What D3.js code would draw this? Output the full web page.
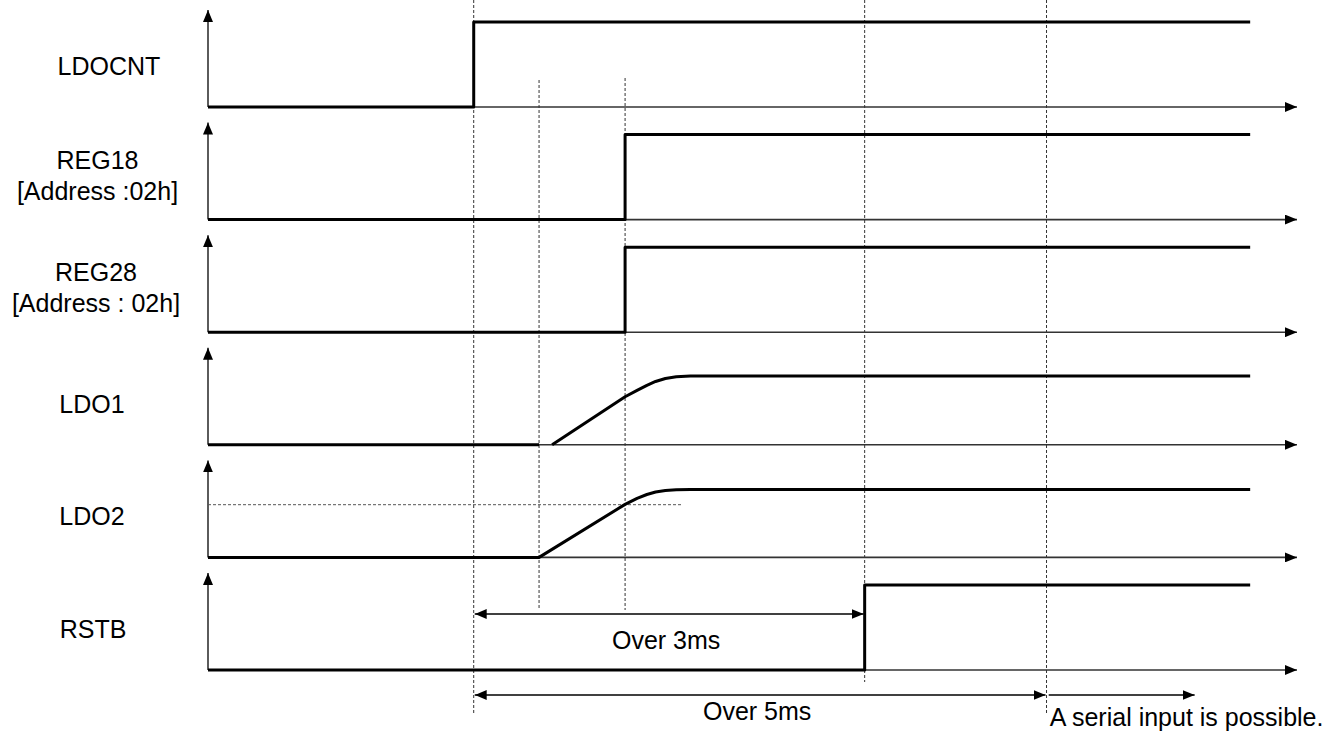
<!DOCTYPE html>
<html>
<head>
<meta charset="utf-8">
<script src="https://cdn.jsdelivr.net/npm/d3@7"></script>
<style>
  html, body { margin: 0; padding: 0; background: #fff; }
  svg { display: block; }
  text { font-family: "Liberation Sans", Arial, sans-serif; fill: #000; }
</style>
</head>
<body>
<svg id="chart" width="1335" height="731"></svg>
<script>
// ---------- data ----------
const signals = ["LDOCNT", "REG18", "REG28", "LDO1", "LDO2", "RSTB"];
const labelLines = [["LDOCNT"], ["REG18", "[Address :02h]"], ["REG28", "[Address : 02h]"], ["LDO1"], ["LDO2"], ["RSTB"]];
// time in arbitrary units (0..100 along the time axis)
const ldocntWave = [[0, 0], [24.4, 0], [24.4, 1], [95.7, 1]];
const reg18Wave  = [[0, 0], [38.3, 0], [38.3, 1], [95.7, 1]];
const reg28Wave  = [[0, 0], [38.3, 0], [38.3, 1], [95.7, 1]];
const ldo1Low    = [[0, 0], [30.4, 0]];
const ldo1Rise   = [[31.6, 0], [38.3, 0.565], [39.4, 0.64], [40.3, 0.70], [41.1, 0.745], [42.0, 0.78], [43.0, 0.80], [44.3, 0.81], [95.7, 0.81]];
const ldo2Wave   = [[0, 0], [30.4, 0], [38.3, 0.624], [39.4, 0.695], [40.3, 0.74], [41.1, 0.77], [42.0, 0.788], [43.0, 0.797], [44.3, 0.80], [95.7, 0.80]];
const rstbWave   = [[0, 0], [60.3, 0], [60.3, 1], [95.7, 1]];
const ldo2Threshold = { value: 0.62, from: 0, to: 43.6 };
const markerTimes = [24.4, 30.4, 38.3, 60.3, 77.0];
const spanFrom = [24.4, 24.4];
const spanTo   = [60.3, 77.0];
const spanLabels = ["Over 3ms", "Over 5ms"];
const serialArrow = [77.2, 90.6];
const serialLabel = "A serial input is possible.";

// ---------- layout ----------
const svg = d3.select("#chart");
const x = d3.scaleLinear().domain([0, 100]).range([208, 1297]);
const base = d3.scalePoint().domain(signals).range([107, 670]);
const levelH = 85;
const yFor = name => d3.scaleLinear().domain([0, 1]).range([base(name), base(name) - levelH]);

const defs = svg.append("defs");
function marker(id, refX, path) {
  defs.append("marker").attr("id", id)
    .attr("viewBox", "0 0 12 10").attr("refX", refX).attr("refY", 5)
    .attr("markerWidth", 12).attr("markerHeight", 10)
    .attr("markerUnits", "userSpaceOnUse").attr("orient", "auto")
    .append("path").attr("d", path).attr("fill", "#000");
}
marker("arrEnd", 12, "M0,0 L12,5 L0,10 Z");
marker("arrStart", 0, "M12,0 L0,5 L12,10 Z");

// dotted marker lines
const markerExtents = [[0, 715], [80, 610], [78, 610], [0, 682], [0, 714]];
svg.append("g").selectAll("line").data(markerTimes).join("line")
  .attr("x1", d => x(d)).attr("x2", d => x(d))
  .attr("y1", (d, i) => markerExtents[i][0]).attr("y2", (d, i) => markerExtents[i][1])
  .attr("stroke", "#333").attr("stroke-width", 1).attr("stroke-dasharray", "3,2");

// axes
const axes = svg.append("g");
signals.forEach(name => {
  const b = base(name);
  axes.append("line").attr("x1", x(0)).attr("x2", x(100)).attr("y1", b).attr("y2", b)
    .attr("stroke", "#333").attr("stroke-width", 1.6).attr("marker-end", "url(#arrEnd)");
  axes.append("line").attr("x1", x(0)).attr("x2", x(0)).attr("y1", b).attr("y2", b - 97)
    .attr("stroke", "#333").attr("stroke-width", 1.6).attr("marker-end", "url(#arrEnd)");
});

// LDO2 threshold
{
  const y = yFor("LDO2");
  svg.append("line").attr("x1", x(ldo2Threshold.from)).attr("x2", x(ldo2Threshold.to))
    .attr("y1", y(ldo2Threshold.value)).attr("y2", y(ldo2Threshold.value))
    .attr("stroke", "#555").attr("stroke-width", 1).attr("stroke-dasharray", "3,2");
}

// waveforms
const waves = [
  ["LDOCNT", ldocntWave], ["REG18", reg18Wave], ["REG28", reg28Wave],
  ["LDO1", ldo1Low], ["LDO1", ldo1Rise], ["LDO2", ldo2Wave], ["RSTB", rstbWave]
];
const wg = svg.append("g");
waves.forEach(([name, pts]) => {
  const y = yFor(name);
  const line = d3.line().x(d => x(d[0])).y(d => y(d[1])).curve(d3.curveLinear);
  wg.append("path").attr("d", line(pts)).attr("fill", "none")
    .attr("stroke", "#000").attr("stroke-width", 3).attr("stroke-linejoin", "round");
});

// labels (y given as text baselines)
const labelX = [109, 97.5, 96, 92, 92, 93];
const lg = svg.append("g");
signals.forEach((name, i) => {
  const lines = labelLines[i];
  const gap = 31;
  const first = lines.length > 1 ? base(name) - 51 : base(name) - 32;
  lines.forEach((t, j) => {
    lg.append("text").attr("x", labelX[i])
      .attr("y", first + j * gap)
      .attr("text-anchor", "middle")
      .attr("font-size", 25).text(t);
  });
});

// dimension arrows
const spanY = [614, 695];
const labelY = [649, 720];
const dg = svg.append("g");
spanLabels.forEach((lab, i) => {
  dg.append("line").attr("x1", x(spanFrom[i]) + 1).attr("x2", x(spanTo[i]) - 1)
    .attr("y1", spanY[i]).attr("y2", spanY[i])
    .attr("stroke", "#000").attr("stroke-width", 1.4)
    .attr("marker-start", "url(#arrStart)").attr("marker-end", "url(#arrEnd)");
  dg.append("text").attr("x", (x(spanFrom[i]) + x(spanTo[i])) / 2 - 3)
    .attr("y", labelY[i]).attr("text-anchor", "middle").attr("font-size", 25).text(lab);
});
dg.append("line").attr("x1", x(serialArrow[0])).attr("x2", x(serialArrow[1]))
  .attr("y1", 695).attr("y2", 695)
  .attr("stroke", "#000").attr("stroke-width", 1.4).attr("marker-end", "url(#arrEnd)");
dg.append("text").attr("x", x(serialArrow[0]) + 1).attr("y", 726)
  .attr("font-size", 25).text(serialLabel);
</script>
</body>
</html>
